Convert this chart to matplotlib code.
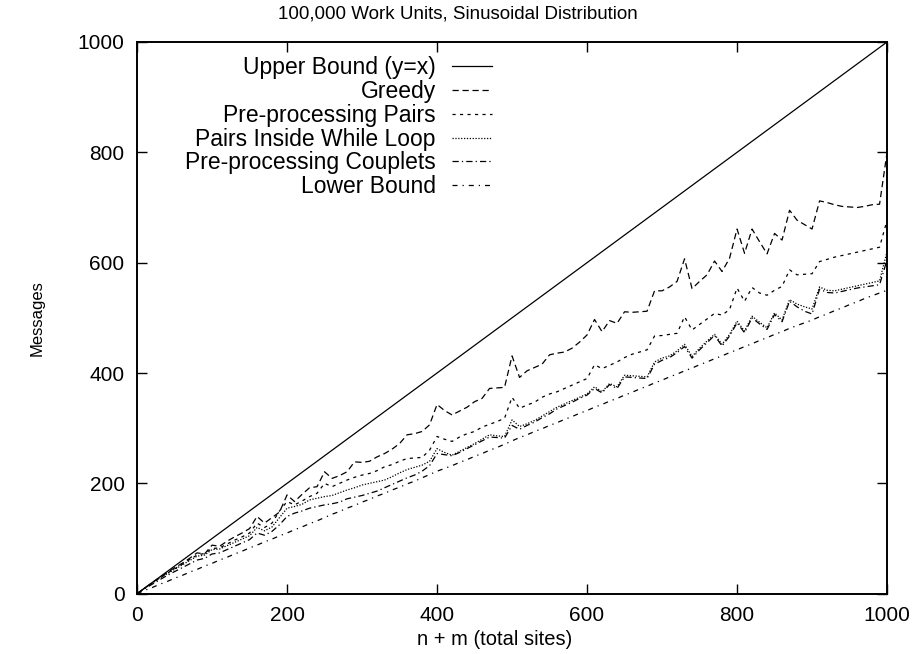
import matplotlib
matplotlib.use('Agg')
import matplotlib.pyplot as plt

plt.rcParams['font.family'] = ['Liberation Sans', 'DejaVu Sans']

# x = total sites (n + m)
sites = list(range(0, 1001, 10))

greedy = [0, 10, 20, 29, 38, 47, 55, 64, 74, 72,
          88, 86, 95, 103, 110, 118, 140, 128, 138, 148,
          179, 167, 180, 192, 194, 221, 209, 214, 221, 239,
          238, 240, 248, 254, 262, 272, 288, 290, 294, 306,
          343, 332, 324, 331, 338, 348, 354, 372, 373, 374,
          431, 392, 404, 410, 416, 433, 436, 438, 445, 456,
          469, 497, 475, 495, 490, 511, 510, 511, 512, 549,
          549, 556, 566, 607, 553, 566, 578, 603, 584, 608,
          661, 617, 661, 638, 616, 653, 641, 695, 677, 669,
          661, 712, 709, 705, 702, 701, 700, 702, 705, 706,
          800]

pre_pairs = [0, 10, 19, 28, 37, 45, 53, 62, 70, 73,
             82, 83, 90, 97, 103, 110, 128, 120, 128, 150,
             167, 161, 168, 176, 182, 200, 194, 200, 206, 211,
             215, 218, 223, 230, 234, 240, 245, 246, 247, 260,
             285, 280, 276, 284, 290, 294, 302, 307, 312, 318,
             356, 336, 342, 347, 356, 362, 366, 372, 378, 384,
             390, 415, 408, 414, 420, 428, 434, 438, 442, 467,
             468, 470, 472, 502, 478, 488, 498, 508, 505, 515,
             554, 530, 555, 545, 541, 550, 557, 587, 578, 579,
             580, 602, 606, 610, 613, 616, 619, 622, 625, 628,
             677]

pairs_loop = [0, 10, 19, 28, 36, 44, 52, 60, 68, 70,
              80, 81, 87, 93, 99, 105, 120, 114, 121, 138,
              155, 158, 162, 170, 173, 176, 178, 183, 188, 192,
              197, 200, 203, 206, 212, 219, 225, 229, 233, 240,
              263, 256, 251, 258, 265, 272, 280, 288, 286, 285,
              315, 303, 308, 314, 322, 330, 338, 344, 350, 356,
              362, 375, 366, 381, 375, 396, 395, 394, 393, 420,
              427, 431, 440, 452, 430, 445, 458, 470, 452, 470,
              494, 476, 503, 492, 482, 509, 496, 533, 525, 520,
              516, 556, 550, 549, 552, 555, 558, 561, 564, 567,
              620]

couplets = [0, 9, 17, 25, 33, 40, 47, 54, 61, 64,
            72, 74, 80, 86, 92, 98, 110, 106, 113, 125,
            140, 146, 150, 155, 158, 161, 163, 166, 172, 175,
            178, 182, 186, 192, 198, 204, 210, 215, 222, 232,
            254, 252, 250, 256, 263, 270, 277, 284, 283, 282,
            305, 298, 305, 311, 319, 326, 335, 341, 347, 354,
            360, 372, 364, 379, 372, 393, 392, 391, 390, 416,
            423, 428, 437, 448, 427, 442, 455, 468, 449, 467,
            491, 473, 500, 489, 479, 506, 493, 530, 520, 512,
            507, 552, 546, 545, 548, 551, 554, 556, 558, 560,
            605]

lower = [0, 6, 11, 17, 22, 28, 33, 39, 44, 50,
         55, 61, 66, 72, 77, 83, 88, 94, 99, 105,
         110, 116, 121, 127, 132, 138, 144, 149, 155, 160,
         166, 171, 177, 182, 188, 193, 199, 204, 210, 216,
         222, 227, 232, 238, 243, 249, 254, 260, 265, 271,
         277, 283, 288, 294, 299, 305, 310, 316, 321, 327,
         332, 338, 343, 349, 354, 360, 365, 371, 376, 382,
         387, 393, 398, 404, 409, 415, 420, 426, 431, 437,
         442, 448, 453, 459, 464, 470, 475, 481, 486, 491,
         496, 502, 507, 513, 518, 524, 529, 535, 540, 545,
         550]

upper = sites  # y = x

fig = plt.figure(figsize=(9.16, 6.54), dpi=100)
ax = fig.add_axes([0.1496, 0.0922, 0.8188, 0.8436])

lw = 0.9
ax.plot(sites, upper, color='black', lw=lw, label='Upper Bound (y=x)')
ax.plot(sites, greedy, color='black', lw=lw, dashes=(5, 3), label='Greedy')
ax.plot(sites, pre_pairs, color='black', lw=lw, dashes=(2.5, 3.5), label='Pre-processing Pairs')
ax.plot(sites, pairs_loop, color='black', lw=lw, dashes=(1, 1.3), label='Pairs Inside While Loop')
ax.plot(sites, couplets, color='black', lw=lw, dashes=(5, 2.5, 1, 2.5), label='Pre-processing Couplets')
ax.plot(sites, lower, color='black', lw=lw, dashes=(4, 4, 1, 4), label='Lower Bound')

ax.set_xlim(0, 1000)
ax.set_ylim(0, 1000)
ax.set_xticks(range(0, 1001, 200))
ax.set_yticks(range(0, 1001, 200))
ax.tick_params(direction='in', length=7, width=1, top=True, right=True,
               labelsize=15)
ax.tick_params(axis='x', pad=9)
ax.tick_params(axis='y', pad=9)
for s in ax.spines.values():
    s.set_linewidth(1.4)

fig.text(0.5, 0.978, '100,000 Work Units, Sinusoidal Distribution',
         fontsize=13.5, ha='center', va='center')
ax.set_xlabel('n + m (total sites)', fontsize=14.5)
ax.xaxis.set_label_coords(0.477, -0.066)
ax.set_ylabel('Messages', fontsize=12, labelpad=24)

ax.legend(loc='upper right', bbox_to_anchor=(0.4733, 0.975), frameon=False,
          markerfirst=False, fontsize=16.5, handlelength=1.75, handletextpad=0.7,
          labelspacing=0.04, borderpad=0, borderaxespad=0)

fig.savefig('out.png', dpi=100)
